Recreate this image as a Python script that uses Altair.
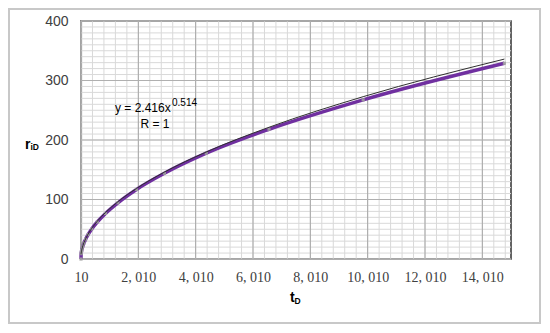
import altair as alt
import pandas as pd

# Data
t_d = [10, 15, 22.5, 33.75, 50.6, 75.9, 113.9, 170.9, 256.3, 384.4, 576.7,
       865.0, 1297.5, 1946.2, 2919.3, 4379.0, 6568.4, 9852.6, 14778.9]
r_id = [0, 9.0, 11.5, 14.3, 17.7, 21.9, 27.0, 33.3, 41.0, 50.5, 62.2,
        76.6, 94.4, 116.8, 144.0, 177.8, 218.0, 267.5, 329.0]
fit_r = [7.9, 9.7, 12.0, 14.8, 18.2, 22.4, 27.6, 33.9, 41.8, 51.5, 63.4,
         78.1, 96.2, 118.5, 146.0, 179.8, 221.4, 272.8, 336.0]
x_ticks = [10, 2010, 4010, 6010, 8010, 10010, 12010, 14010]
y_ticks = [0, 100, 200, 300, 400]
x_minor = [10 + 400 * k for k in range(38)]
y_minor = [10 * k for k in range(41)]

df = pd.DataFrame({"t": t_d, "r": r_id, "fit": fit_r})

W, H = 430, 238
xs = alt.Scale(domain=[10, 15010], nice=False, zero=False)
ys = alt.Scale(domain=[0, 400], nice=False)

FONT = "Liberation Sans"

x_axis = alt.Axis(values=x_ticks, grid=False, ticks=False, title=None,
                  labelFont="Liberation Serif", labelFontSize=14, labelColor="#404040",
                  labelExpr="replace(format(datum.value, ','), ',', ', ')",
                  labelBaseline="alphabetic", labelPadding=22,
                  domainColor="#808080", domainWidth=1.2, labelFlush=False)
y_axis = alt.Axis(values=y_ticks, grid=False, ticks=False, title=None,
                  labelFont=FONT, labelFontSize=14, labelColor="#404040",
                  labelPadding=13, domainColor="#808080", domainWidth=1.2)

gx_min = alt.Chart(pd.DataFrame({"v": x_minor})).mark_rule(color="#d9d9d9", strokeWidth=1).encode(
    x=alt.X("v:Q", scale=xs, axis=x_axis))
gy_min = alt.Chart(pd.DataFrame({"v": y_minor})).mark_rule(color="#d9d9d9", strokeWidth=1).encode(
    y=alt.Y("v:Q", scale=ys, axis=y_axis))
gx_maj = alt.Chart(pd.DataFrame({"v": x_ticks})).mark_rule(color="#a6a6a6", strokeWidth=1).encode(
    x=alt.X("v:Q", scale=xs, axis=x_axis))
gy_maj = alt.Chart(pd.DataFrame({"v": y_ticks})).mark_rule(color="#b0b0b0", strokeWidth=1).encode(
    y=alt.Y("v:Q", scale=ys, axis=y_axis))

base = alt.Chart(df)
purple = base.mark_line(color="#7030A0", strokeWidth=3.5, interpolate="monotone").encode(
    x=alt.X("t:Q", scale=xs, axis=x_axis),
    y=alt.Y("r:Q", scale=ys, axis=y_axis))
pts = base.mark_point(shape="square", filled=True, color="#a0a0a0", size=10, opacity=0.9).encode(
    x=alt.X("t:Q", scale=xs, axis=x_axis), y=alt.Y("r:Q", scale=ys, axis=y_axis))
black = base.mark_line(color="#303030", strokeWidth=1, interpolate="monotone").encode(
    x=alt.X("t:Q", scale=xs, axis=x_axis), y=alt.Y("fit:Q", scale=ys, axis=y_axis))

one = pd.DataFrame({"a": [0]})

def label(text, x, y, size, bold=False, align="left"):
    return alt.Chart(one).mark_text(
        text=text, font=FONT, fontSize=size, fontWeight="bold" if bold else "normal",
        color="#000000", align=align, baseline="alphabetic").encode(
        x=alt.value(x), y=alt.value(y))

border = alt.Chart(one).mark_rect(fill=None, stroke="#c8c8c8", strokeWidth=2).encode(
    x=alt.value(-72), x2=alt.value(459), y=alt.value(-12), y2=alt.value(302))

texts = [
    label("y = 2.416x", 34, 91, 12),
    label("0.514", 91, 85, 10),
    label("R = 1", 74, 107, 12, align="center"),
    label("r", -56, 128, 14, bold=True),
    label("iD", -50.5, 129, 8.5, bold=True),
    label("t", 209, 281, 14, bold=True),
    label("D", 213.5, 283, 8.5, bold=True),
]

chart = alt.layer(gx_min, gy_min, gx_maj, gy_maj, purple, pts, black, border, *texts).properties(
    width=W, height=H,
    autosize=alt.AutoSizeParams(type="none"),
    padding={"left": 73, "top": 13, "right": 31, "bottom": 66},
).configure_view(stroke="#303030", strokeWidth=1.5)

chart.save("out.html", embed_options={"renderer": "svg", "actions": False})
